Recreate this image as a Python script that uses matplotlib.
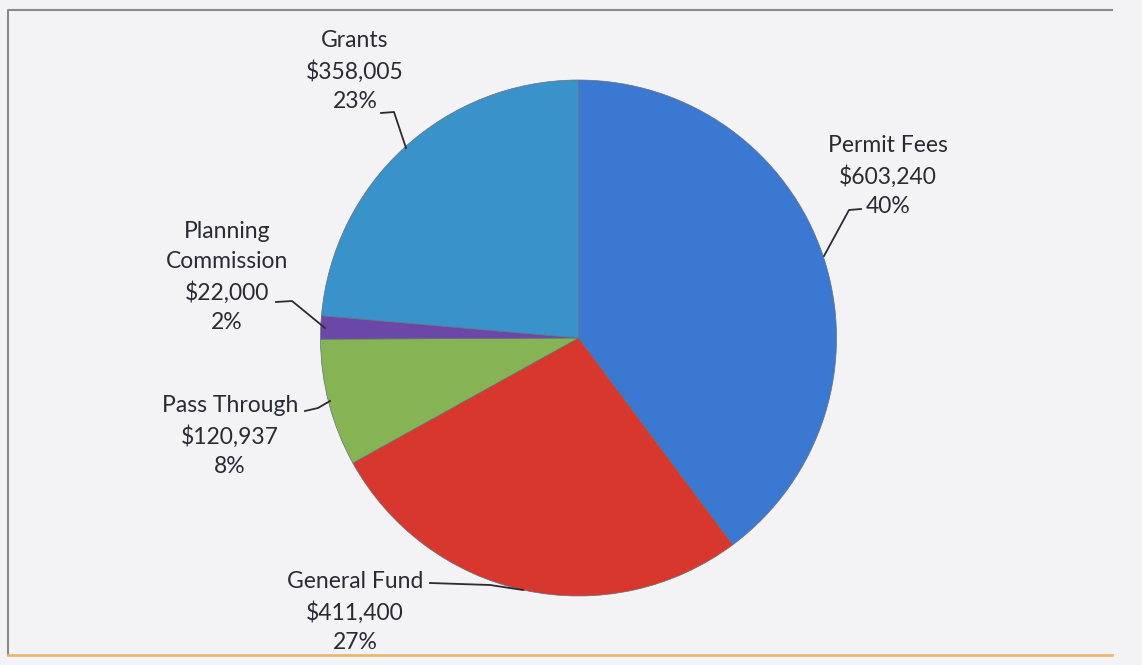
import matplotlib
matplotlib.use('Agg')
import matplotlib.pyplot as plt

names = ['Permit Fees', 'General Fund', 'Pass Through', 'Planning\nCommission', 'Grants']
values = [603240, 411400, 120937, 22000, 358005]
pcts = [40, 27, 8, 2, 23]  # as printed on the chart
colors = ['#3b78d2', '#d8372e', '#86b455', '#6b48a8', '#3a92cb']

H = 665
fig = plt.figure(figsize=(11.42, 6.65), dpi=100)
fig.patch.set_facecolor('#f3f2f5')
ax = fig.add_axes([0, 0, 1, 1])
ax.axis('off')

# outer frame
ax.plot([8, 8, 1112], [H - 655, H - 10, H - 10], color='#8a8a8a', lw=1.5)
ax.plot([8, 1112], [H - 655, H - 655], color='#e8b870', lw=2)

ax.pie(values, colors=colors, startangle=90, counterclock=False,
       center=(578.5, H - 338), radius=258,
       wedgeprops=dict(linewidth=0.5, edgecolor='#66707a'))
ax.set_xlim(0, 1142)
ax.set_ylim(0, H)
ax.set_aspect('equal')

# label centre (pixel) and leader path (pixel) for each slice
label_pos = [(888, 176), (355, 612), (230, 436), (227, 277), (355, 71)]
leaders = [
    [(861, 209), (849, 210), (824, 256)],
    [(430, 583), (490, 585), (523, 590)],
    [(305, 411), (318, 408), (330, 401)],
    [(276, 302), (292, 301), (325, 328)],
    [(381, 113), (394, 112), (406, 148)],
]
for n, v, p, (lx, ly), path in zip(names, values, pcts, label_pos, leaders):
    txt = '%s\n$%s\n%d%%' % (n, format(v, ','), p)
    ax.text(lx, H - ly, txt, ha='center', va='center', fontsize=16.5,
            family='Lato', color='#2a2a35', linespacing=1.5)
    xs = [q[0] for q in path]
    ys = [H - q[1] for q in path]
    ax.plot(xs, ys, color='#2a2a35', lw=1.3)

fig.savefig('out.png', dpi=100, facecolor=fig.get_facecolor())
